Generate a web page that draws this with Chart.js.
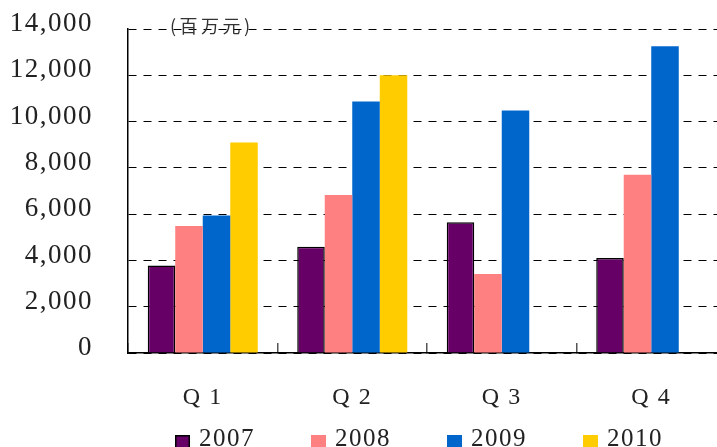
<!DOCTYPE html>
<html>
<head>
<meta charset="utf-8">
<script src="https://cdn.jsdelivr.net/npm/chart.js@4.4.0/dist/chart.umd.min.js"></script>
<style>
  html, body { margin: 0; padding: 0; overflow: hidden; background: #fff; }
  #wrap { width: 740px; height: 447px; }
</style>
</head>
<body>
<div id="wrap"><canvas id="chart" width="740" height="447"></canvas></div>
<script>
// data
const quarters = ["Q 1", "Q 2", "Q 3", "Q 4"];
const years = ["2007", "2008", "2009", "2010"];
const v2007 = [3780, 4590, 5650, 4100];
const v2008 = [5490, 6830, 3410, 7700];
const v2009 = [5940, 10870, 10480, 13260];
const v2010 = [9100, 12000, null, null];
const yTicks = [0, 2000, 4000, 6000, 8000, 10000, 12000, 14000];
const unitLabel = "(百万元)";

const colors = ["#660066", "#FF8080", "#0066CC", "#FFCC00"];
const series = [v2007, v2008, v2009, v2010];

// extra bits: letter spacing, unit label, legend row
const extras = {
  id: "extras",
  beforeUpdate(chart) { chart.ctx.letterSpacing = "1.5px"; },
  beforeDraw(chart) { chart.ctx.letterSpacing = "1.5px"; },
  afterDraw(chart) {
    const ctx = chart.ctx;
    ctx.save();
    ctx.letterSpacing = "3.5px";
    ctx.font = '18px "Noto Sans CJK SC"';
    ctx.fillStyle = "#333";
    ctx.textBaseline = "middle";
    ctx.fillText(unitLabel, 170, 26);

    ctx.letterSpacing = "1.5px";
    ctx.font = '25px "Liberation Serif"';
    ctx.textBaseline = "alphabetic";
    chart.data.datasets.forEach((ds, i) => {
      const x = 175 + i * 136;
      ctx.fillStyle = ds.backgroundColor;
      ctx.fillRect(x, 435, 15, 15);
      if (ds.borderWidth) {
        ctx.strokeStyle = "#000";
        ctx.lineWidth = 1.5;
        ctx.strokeRect(x + 0.75, 435.75, 13.5, 14);
      }
      ctx.fillStyle = "#222";
      ctx.fillText(ds.label, x + 24, 446);
    });
    ctx.restore();
  }
};

new Chart(document.getElementById("chart"), {
  type: "bar",
  data: {
    labels: quarters,
    datasets: years.map((y, i) => ({
      label: y,
      data: series[i],
      backgroundColor: colors[i],
      borderColor: "#000",
      borderWidth: i === 0 ? 1.5 : 0,
      barPercentage: 1,
      categoryPercentage: 0.736
    }))
  },
  options: {
    responsive: false,
    animation: false,
    devicePixelRatio: 1,
    layout: { padding: { top: 29, right: 14, left: 0, bottom: 0 } },
    plugins: {
      legend: { display: false },
      tooltip: { enabled: false }
    },
    scales: {
      x: {
        grid: { display: true, drawOnChartArea: false, drawTicks: true, tickLength: -10, color: "#555", lineWidth: 1.5, offset: true },
        border: { display: true, color: "#000", width: 1.5 },
        ticks: { color: "#222", font: { family: "Liberation Serif", size: 24 }, padding: 40, maxRotation: 0 },
        afterFit(s) { s.height = 94; s.paddingLeft = 0; s.paddingRight = 0; }
      },
      y: {
        min: 0,
        max: 14000,
        afterBuildTicks(s) { s.ticks = yTicks.map(v => ({ value: v })); },
        ticks: {
          color: "#222",
          font: { family: "Liberation Serif", size: 27 },
          padding: 35,
          labelOffset: -5,
          callback: v => v.toLocaleString("en-US")
        },
        grid: { color: "#000", lineWidth: 1, drawTicks: false },
        border: { display: true, color: "#000", width: 1.5, dash: [8, 7] },
        afterFit(s) { s.width = 128; s.paddingTop = 0; s.paddingBottom = 0; }
      }
    }
  },
  plugins: [extras]
});
</script>
</body>
</html>
